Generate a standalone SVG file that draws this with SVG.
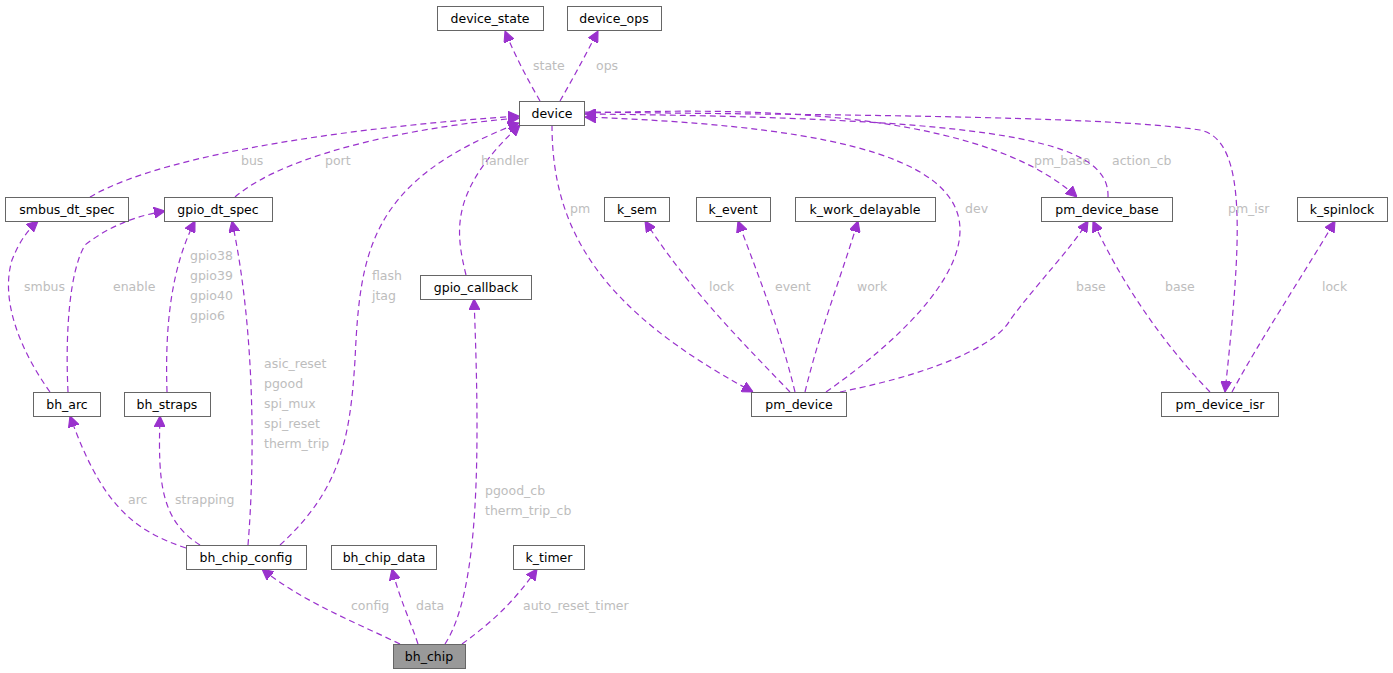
<svg xmlns="http://www.w3.org/2000/svg" width="1393" height="673" viewBox="0 0 1393 673">
<style>
.n rect{fill:#fff;stroke:#666;stroke-width:1}
.n text{font-family:"DejaVu Sans",sans-serif;font-size:12.5px;fill:#000;text-anchor:middle}
#edges path{fill:none;stroke:#9a32cd;stroke-width:1.2;stroke-dasharray:6,4;marker-end:url(#a)}
#edges text{font-family:"DejaVu Sans",sans-serif;font-size:12.5px;fill:#bdbdbd}
</style>
<defs><marker id="a" viewBox="0 0 10 10" refX="10" refY="5" markerWidth="11" markerHeight="11" markerUnits="userSpaceOnUse" orient="auto"><path d="M0,0L10,5L0,10z" fill="#9a32cd" stroke="#9a32cd"/></marker></defs>
<rect width="1393" height="673" fill="#fff"/>
<g id="edges">
<path d="M540,101 C528,80 516,58 505,31"/><text x="533" y="70">state</text>
<path d="M560,101 C572,80 584,58 598,31"/><text x="596" y="70">ops</text>
<path d="M90,197 C170,150 380,125 519,116"/><text x="241" y="165">bus</text>
<path d="M235,197 C290,150 430,125 519,118"/><text x="325" y="165">port</text>
<path d="M280,545 C340,490 350,440 355,360 C360,250 370,180 519,123"/><text x="372" y="280">flash</text><text x="372" y="300">jtag</text>
<path d="M466,275 C455,230 450,190 520,125"/><text x="481" y="165">handler</text>
<path d="M552,125 C552,230 600,310 753,392"/><text x="570" y="213">pm</text>
<path d="M826,392 C900,340 960,280 960,230 C960,150 800,125 585,117"/><text x="965" y="213">dev</text>
<path d="M585,113 C700,110 970,100 1077,197"/><text x="1034" y="165">pm_base</text>
<path d="M1108,197 C1110,140 1000,118 585,114"/><text x="1112" y="165">action_cb</text>
<path d="M585,112 C800,115 1100,115 1200,130 C1250,140 1240,250 1225,392"/><text x="1228" y="213">pm_isr</text>
<path d="M790,392 C740,340 690,290 645,221"/><text x="709" y="291">lock</text>
<path d="M795,392 C780,330 760,280 738,221"/><text x="775" y="291">event</text>
<path d="M805,392 C820,330 840,280 858,221"/><text x="857" y="291">work</text>
<path d="M840,392 C950,370 1000,340 1010,320 C1040,280 1070,250 1088,221"/><text x="1076" y="291">base</text>
<path d="M1210,392 C1160,340 1120,280 1093,221"/><text x="1165" y="291">base</text>
<path d="M1232,392 C1260,340 1300,280 1335,221"/><text x="1322" y="291">lock</text>
<path d="M50,392 C20,350 0,300 12,260 C20,240 28,230 38,221"/><text x="24" y="291">smbus</text>
<path d="M68,392 C65,330 70,270 85,245 C110,225 140,215 165,211"/><text x="113" y="291">enable</text>
<path d="M167,392 C165,330 170,270 195,221"/><text x="190" y="260">gpio38</text><text x="190" y="280">gpio39</text><text x="190" y="300">gpio40</text><text x="190" y="320">gpio6</text>
<path d="M248,545 C255,460 255,330 232,221"/><text x="264" y="368">asic_reset</text><text x="264" y="388">pgood</text><text x="264" y="408">spi_mux</text><text x="264" y="428">spi_reset</text><text x="264" y="448">therm_trip</text>
<path d="M186,548 C130,530 100,500 70,416"/><text x="128" y="504">arc</text>
<path d="M200,545 C160,520 158,480 160,416"/><text x="175" y="504">strapping</text>
<path d="M400,644 C350,620 300,600 262,569"/><text x="351" y="610">config</text>
<path d="M418,644 C410,620 400,600 392,569"/><text x="416" y="610">data</text>
<path d="M445,644 C480,590 480,450 474,299"/><text x="485" y="495">pgood_cb</text><text x="485" y="515">therm_trip_cb</text>
<path d="M462,644 C495,620 515,600 537,569"/><text x="523" y="610">auto_reset_timer</text>
</g>
<g id="device_state" class="n"><rect x="437.5" y="6.5" width="106" height="24"/><text x="490" y="23">device_state</text></g>
<g id="device_ops" class="n"><rect x="567.5" y="6.5" width="94" height="24"/><text x="614" y="23">device_ops</text></g>
<g id="device" class="n"><rect x="519.5" y="101.5" width="65" height="24"/><text x="552" y="118">device</text></g>
<g id="smbus_dt_spec" class="n"><rect x="5.5" y="197.5" width="123" height="24"/><text x="67" y="214">smbus_dt_spec</text></g>
<g id="gpio_dt_spec" class="n"><rect x="164.5" y="197.5" width="108" height="24"/><text x="218" y="214">gpio_dt_spec</text></g>
<g id="k_sem" class="n"><rect x="604.5" y="197.5" width="65" height="24"/><text x="637" y="214">k_sem</text></g>
<g id="k_event" class="n"><rect x="696.5" y="197.5" width="74" height="24"/><text x="733" y="214">k_event</text></g>
<g id="k_work_delayable" class="n"><rect x="795.5" y="197.5" width="140" height="24"/><text x="865" y="214">k_work_delayable</text></g>
<g id="pm_device_base" class="n"><rect x="1041.5" y="197.5" width="131" height="24"/><text x="1107" y="214">pm_device_base</text></g>
<g id="k_spinlock" class="n"><rect x="1297.5" y="197.5" width="90" height="24"/><text x="1342" y="214">k_spinlock</text></g>
<g id="gpio_callback" class="n"><rect x="420.5" y="275.5" width="111" height="24"/><text x="476" y="292">gpio_callback</text></g>
<g id="bh_arc" class="n"><rect x="33.5" y="392.5" width="67" height="24"/><text x="67" y="409">bh_arc</text></g>
<g id="bh_straps" class="n"><rect x="124.5" y="392.5" width="86" height="24"/><text x="167" y="409">bh_straps</text></g>
<g id="pm_device" class="n"><rect x="751.5" y="392.5" width="95" height="24"/><text x="799" y="409">pm_device</text></g>
<g id="pm_device_isr" class="n"><rect x="1161.5" y="392.5" width="117" height="24"/><text x="1220" y="409">pm_device_isr</text></g>
<g id="bh_chip_config" class="n"><rect x="186.5" y="545.5" width="120" height="24"/><text x="246" y="562">bh_chip_config</text></g>
<g id="bh_chip_data" class="n"><rect x="331.5" y="545.5" width="105" height="24"/><text x="384" y="562">bh_chip_data</text></g>
<g id="k_timer" class="n"><rect x="513.5" y="545.5" width="71" height="24"/><text x="549" y="562">k_timer</text></g>
<g id="bh_chip" class="n"><rect x="393.5" y="644.5" width="72" height="24" style="fill:#999"/><text x="429" y="661">bh_chip</text></g>
</svg>
